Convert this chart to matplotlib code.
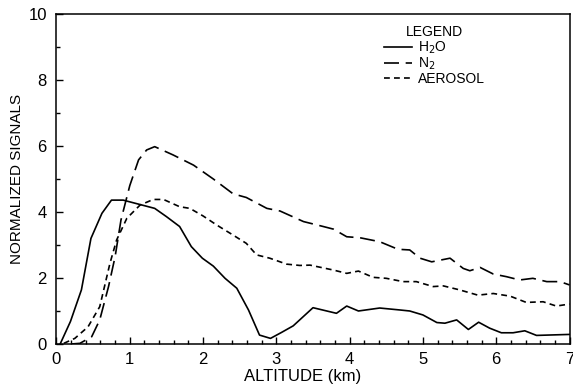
import numpy as np
import matplotlib.pyplot as plt

plt.rcParams['font.family'] = ['Liberation Sans', 'DejaVu Sans']

# H2O (linha contínua)
h2o_x = [0.05, 0.19, 0.34, 0.47, 0.62, 0.75, 0.91, 1.34, 1.5, 1.68, 1.84, 1.99,
         2.14, 2.3, 2.46, 2.62, 2.77, 2.92, 3.07, 3.23, 3.5, 3.82, 3.96, 4.12,
         4.41, 4.69, 4.82, 5.0, 5.19, 5.3, 5.46, 5.62, 5.76, 5.91, 6.07, 6.23,
         6.39, 6.55, 7.0]
h2o_y = [0.0, 0.68, 1.64, 3.2, 3.96, 4.36, 4.36, 4.11, 3.86, 3.56, 2.95, 2.6,
         2.36, 1.99, 1.69, 1.03, 0.27, 0.17, 0.35, 0.55, 1.1, 0.93, 1.15, 1.0,
         1.09, 1.03, 1.0, 0.88, 0.65, 0.63, 0.73, 0.44, 0.66, 0.48, 0.34, 0.34,
         0.4, 0.26, 0.29]

# N2 (tracejado longo)
n2_x = [0.2, 0.32, 0.48, 0.59, 0.71, 0.8, 0.88, 1.0, 1.12, 1.23, 1.34, 1.59,
        1.87, 2.14, 2.41, 2.59, 2.87, 3.05, 3.37, 3.64, 3.78, 3.96, 4.14, 4.41,
        4.66, 4.82, 4.96, 5.12, 5.37, 5.55, 5.64, 5.78, 5.96, 6.14, 6.32, 6.5,
        6.69, 6.87, 7.0]
n2_y = [0.0, 0.02, 0.22, 0.73, 1.74, 2.65, 3.76, 4.8, 5.58, 5.88, 5.98, 5.73,
        5.42, 5.0, 4.55, 4.44, 4.11, 4.03, 3.71, 3.56, 3.48, 3.25, 3.22, 3.1,
        2.87, 2.85, 2.6, 2.49, 2.6, 2.29, 2.22, 2.32, 2.12, 2.04, 1.94, 1.99,
        1.89, 1.89, 1.79]

# AEROSOL (tracejado curto)
aer_x = [0.1, 0.25, 0.43, 0.59, 0.73, 0.82, 0.96, 1.14, 1.32, 1.46, 1.68, 1.82,
         2.0, 2.19, 2.41, 2.59, 2.73, 2.91, 3.14, 3.32, 3.46, 3.78, 3.96, 4.12,
         4.32, 4.5, 4.73, 4.91, 5.14, 5.28, 5.5, 5.75, 5.96, 6.19, 6.41, 6.64,
         6.82, 7.0]
aer_y = [0.02, 0.17, 0.52, 1.13, 2.45, 3.15, 3.81, 4.21, 4.38, 4.38, 4.16, 4.11,
         3.88, 3.6, 3.3, 3.05, 2.7, 2.6, 2.42, 2.38, 2.39, 2.24, 2.14, 2.21,
         2.02, 1.99, 1.89, 1.89, 1.74, 1.76, 1.64, 1.48, 1.53, 1.45, 1.26, 1.28,
         1.15, 1.21]

fig = plt.figure(figsize=(5.73, 3.89), dpi=100)
ax = fig.add_axes([0.0986, 0.1157, 0.8953, 0.8483])

ax.plot(h2o_x, h2o_y, color='black', lw=1.2, label='H$_2$O')
ax.plot(n2_x, n2_y, color='black', lw=1.2, dashes=(9, 4), label='N$_2$')
ax.plot(aer_x, aer_y, color='black', lw=1.2, dashes=(3.5, 2.5), label='AEROSOL')

ax.set_xlim(0, 7)
ax.set_ylim(0, 10)
ax.set_xticks(np.arange(0, 8, 1))
ax.set_xticks(np.arange(0, 7.01, 0.2), minor=True)
ax.set_yticks(np.arange(0, 11, 2))
ax.set_yticks(np.arange(0, 11, 1), minor=True)
ax.tick_params(which='both', direction='in', labelsize=12, width=1)
ax.tick_params(which='major', length=5)
ax.tick_params(which='minor', length=3)
ax.tick_params(axis='x', which='major', pad=6)
ax.tick_params(axis='y', which='major', pad=7)
for s in ax.spines.values():
    s.set_linewidth(1.1)

ax.set_xlabel('ALTITUDE (km)', fontsize=12, labelpad=1, x=0.48)
ax.set_ylabel('NORMALIZED SIGNALS', fontsize=11, labelpad=3)

leg = ax.legend(title='LEGEND', loc='upper left', bbox_to_anchor=(0.62, 0.995),
                frameon=False, fontsize=10, title_fontsize=10,
                handlelength=2.0, handletextpad=0.4, labelspacing=0.0,
                borderpad=0.2)

plt.savefig('out.png', dpi=100)
